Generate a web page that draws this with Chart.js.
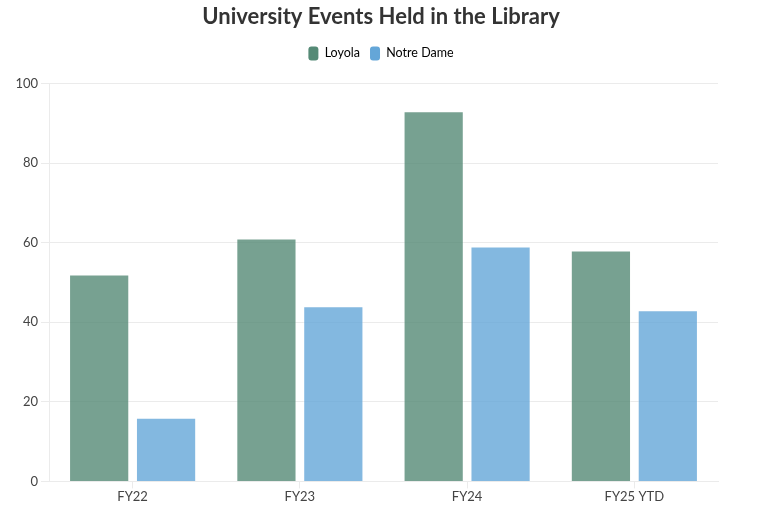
<!DOCTYPE html>
<html><head><meta charset="utf-8">
<script src="https://cdn.jsdelivr.net/npm/chart.js@4.4.1/dist/chart.umd.min.js"></script>
<style>html,body{margin:0;padding:0;background:#fff}#wrap{width:762px;height:507px}</style>
</head><body><div id="wrap"><canvas id="c"></canvas></div>
<script>
const categories = ["FY22", "FY23", "FY24", "FY25 YTD"];
const loyola = [52, 61, 93, 58];
const notreDame = [16, 44, 59, 43];
const seriesNames = ["Loyola", "Notre Dame"];
const solid = ["#558a76", "#64a6d8"];
const fills = ["rgba(85,138,118,0.8)", "rgba(100,166,216,0.8)"];

Chart.defaults.font.family = "Lato, 'Open Sans', sans-serif";
Chart.defaults.color = "#555";
new Chart(document.getElementById('c'), {
  type: 'bar',
  data: {
    labels: categories,
    datasets: [
      {label: seriesNames[0], data: loyola, backgroundColor: fills[0], borderColor: "rgba(255,255,255,0.35)", borderWidth: 1, xAxisID: 'x', yAxisID: 'y'},
      {label: seriesNames[1], data: notreDame, backgroundColor: fills[1], borderColor: "rgba(255,255,255,0.35)", borderWidth: 1, xAxisID: 'x', yAxisID: 'y'}
    ]
  },
  options: {
    responsive: true, maintainAspectRatio: false, animation: false,
    layout: {padding: {top: 0, left: 0, right: 0, bottom: 1}},
    datasets: {bar: {categoryPercentage: 0.8, barPercentage: 0.9}},
    plugins: {
      title: {display: true, text: "University Events Held in the Library", color: "#333",
        font: {size: 22, weight: 'bold'}, padding: {top: 4, bottom: 6}},
      legend: {labels: {boxWidth: 10, boxHeight: 14, useBorderRadius: true, borderRadius: 3, padding: 10,
        color: "#444", font: {size: 12.5},
        generateLabels: (chart) => chart.data.datasets.map((d, i) => ({
          text: d.label, fillStyle: solid[i], strokeStyle: solid[i], lineWidth: 0,
          hidden: !chart.isDatasetVisible(i), datasetIndex: i, borderRadius: 3
        }))}}
    },
    scales: {
      x: {grid: {color: "#ebebeb", drawOnChartArea: false, offset: false, tickLength: 7},
          border: {color: "#ebebeb"},
          ticks: {font: {size: 13}, color: "#444", padding: 1}},
      y: {min: 0, max: 100, ticks: {stepSize: 20, font: {size: 13}, color: "#444"},
          grid: {color: "#ebebeb"}, border: {color: "#ebebeb"},
          afterFit: (s) => { s.width = 49; }},
      xTop: {type: 'category', position: 'top', display: true,
          grid: {display: false}, border: {display: false}, ticks: {display: false},
          afterFit: (s) => { s.height = 13; }},
      yRight: {type: 'linear', position: 'right', display: true,
          grid: {display: false}, border: {display: false}, ticks: {display: false},
          afterFit: (s) => { s.width = 44; }}
    }
  }
});
</script></body></html>
